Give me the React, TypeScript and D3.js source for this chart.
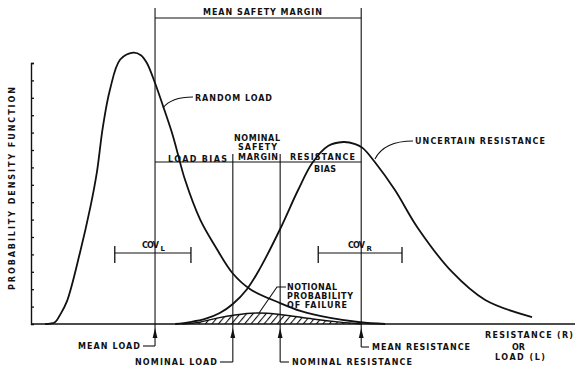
import React, { useRef, useEffect } from "react";
import * as d3 from "d3";

// values: x in arbitrary load/resistance units,
// y in units of the density axis ticks (15 ticks up the axis)
const loadX = [2.6, 4.4, 5.3, 6.6, 9.0, 10.9, 12.1, 13.2, 14.5, 16.4, 18.8, 20.2, 21.3, 22.8, 24.3, 25.9, 26.8, 28.3, 31.1, 33.8, 37.1, 40.3, 45.8, 49.5, 55.0, 60.5, 65.1];
const loadY = [0, 0.1, 0.5, 1.3, 4.1, 6.7, 8.7, 11.3, 13.45, 15.2, 15.6, 15.45, 15.0, 13.85, 12.5, 11.0, 10.0, 8.3, 6.0, 4.5, 2.9, 2.0, 1.2, 0.75, 0.35, 0.1, 0];

const resistanceX = [26.5, 29.2, 32.0, 34.7, 37.1, 39.7, 42.1, 45.8, 49.1, 51.7, 54.6, 57.4, 59.6, 61.0, 63.2, 66.9, 71.1, 77.4, 83.5, 92.1];
const resistanceY = [0, 0.11, 0.29, 0.63, 1.15, 2.0, 3.2, 5.46, 7.7, 9.25, 10.23, 10.46, 10.34, 10.11, 9.31, 7.7, 5.52, 2.99, 1.38, 0.4];

const failureX = [27.8, 31.1, 34.2, 37.5, 41.5, 45.8, 51.8, 56.8, 60.8];
const failureY = [0, 0.11, 0.34, 0.52, 0.63, 0.55, 0.29, 0.11, 0];

const markerNames = ["MEAN LOAD", "NOMINAL LOAD", "NOMINAL RESISTANCE", "MEAN RESISTANCE"];
const markerValues = [22.8, 37.1, 45.8, 60.7];

const covL = [15.4, 29.4];
const covR = [52.8, 68.2];

const yTicks = [1, 2, 3, 4, 5, 6, 7, 8, 9, 10, 11, 12, 13, 14, 15];

const W = 575;
const H = 372;
const FONT = "'DejaVu Sans', sans-serif";
const INK = "#111";

const App = () => {
  const svgRef = useRef<SVGSVGElement>(null);

  useEffect(() => {
    const svg = d3.select(svgRef.current);
    svg.selectAll("*").remove();

    const x = d3.scaleLinear().domain([0, 100]).range([31, 575]);
    const y = d3.scaleLinear().domain([0, 15]).range([324, 63]);

    // hatching for the failure region
    svg
      .append("defs")
      .append("pattern")
      .attr("id", "hatch")
      .attr("patternUnits", "userSpaceOnUse")
      .attr("width", 5)
      .attr("height", 5)
      .attr("patternTransform", "rotate(40)")
      .append("line")
      .attr("x1", 0)
      .attr("y1", 0)
      .attr("x2", 0)
      .attr("y2", 5)
      .attr("stroke", INK)
      .attr("stroke-width", 2.2);

    const label = (
      text: string,
      lx: number,
      ly: number,
      w: number,
      size = 8,
      rotate = false
    ) => {
      const t = svg
        .append("text")
        .attr("x", lx)
        .attr("y", ly)
        .attr("dominant-baseline", "central")
        .attr("font-family", FONT)
        .attr("font-weight", "bold")
        .attr("font-size", size)
        .attr("fill", INK)
        .text(text);
      if (w > 0) t.attr("textLength", w).attr("lengthAdjust", "spacing");
      if (rotate) t.attr("transform", `rotate(-90, ${lx}, ${ly})`);
      return t;
    };

    const seg = (x1: number, y1: number, x2: number, y2: number, sw = 1.1) =>
      svg
        .append("line")
        .attr("x1", x1)
        .attr("y1", y1)
        .attr("x2", x2)
        .attr("y2", y2)
        .attr("stroke", INK)
        .attr("stroke-width", sw);

    // y axis, ticks pointing inwards
    const yAxis = d3
      .axisRight(y)
      .tickValues(yTicks)
      .tickSizeInner(3)
      .tickSizeOuter(3)
      .tickFormat(() => "");
    const ya = svg.append("g").attr("transform", `translate(${x(0)},0)`).call(yAxis);
    ya.select(".domain").attr("stroke", INK).attr("stroke-width", 1.4);
    ya.selectAll(".tick line").attr("stroke", INK).attr("stroke-width", 1.3);

    // baseline
    seg(x(0), y(0), x(100), y(0), 1.5);

    // failure region
    const fArea = d3
      .area<number>()
      .x((d, i) => x(failureX[i]))
      .y0(y(0))
      .y1((d) => y(d))
      .curve(d3.curveCatmullRom.alpha(0.5));
    svg.append("path").attr("d", fArea(failureY)).attr("fill", "url(#hatch)");

    const curveLine = (xs: number[]) =>
      d3
        .line<number>()
        .x((d, i) => x(xs[i]))
        .y((d) => y(d))
        .curve(d3.curveCatmullRom.alpha(0.5));

    svg
      .append("path")
      .attr("d", curveLine(failureX)(failureY))
      .attr("fill", "none")
      .attr("stroke", INK)
      .attr("stroke-width", 1.4);

    svg
      .append("path")
      .attr("d", curveLine(loadX)(loadY))
      .attr("fill", "none")
      .attr("stroke", INK)
      .attr("stroke-width", 1.8);

    svg
      .append("path")
      .attr("d", curveLine(resistanceX)(resistanceY))
      .attr("fill", "none")
      .attr("stroke", INK)
      .attr("stroke-width", 1.8);

    // vertical marker lines with arrows and leader labels
    const tops = [8, 154, 154, 8];
    const bottoms = [346, 362, 362, 347];
    const labelX = [78, 135, 292, 372];
    const labelW = [62, 82, 120, 98];
    markerValues.forEach((v, i) => {
      const mx = x(v);
      seg(mx, tops[i], mx, bottoms[i], 1.1);
      svg
        .append("path")
        .attr("d", `M${mx},${y(0) + 4}L${mx - 2.4},${y(0) + 14}L${mx + 2.4},${y(0) + 14}Z`)
        .attr("fill", INK);
      const left = i < 2;
      const end = left ? labelX[i] + labelW[i] + 3 : labelX[i] - 3;
      seg(mx, bottoms[i], end, bottoms[i], 1.1);
      label(markerNames[i], labelX[i], bottoms[i], labelW[i]);
    });

    // mean safety margin bracket
    seg(x(markerValues[0]), 18, x(markerValues[3]), 18, 1.1);
    label("MEAN SAFETY MARGIN", 203, 12, 119);

    // bias / nominal margin bracket
    seg(x(markerValues[0]), 162, x(markerValues[3]), 162, 1.1);
    label("LOAD BIAS", 168, 159, 59);
    label("NOMINAL", 234, 138, 46);
    label("SAFETY", 238, 147, 39);
    label("MARGIN", 238, 157, 40);
    label("RESISTANCE", 290, 157, 65);
    label("BIAS", 314, 169, 22);

    // coefficient of variation brackets
    const cov = (range: number[], sub: string, tx: number) => {
      const a = x(range[0]);
      const b = x(range[1]);
      seg(a, 253, b, 253, 1.1);
      seg(a, 246, a, 263, 1.3);
      seg(b, 247, b, 263, 1.3);
      label("COV", tx, 245, 17);
      label(sub, tx + 18.5, 248.5, 0, 7);
    };
    cov(covL, "L", 142);
    cov(covR, "R", 348);

    // curve call-outs
    svg
      .append("path")
      .attr("d", "M163,108Q171,97 193,97")
      .attr("fill", "none")
      .attr("stroke", INK)
      .attr("stroke-width", 1.1);
    label("RANDOM LOAD", 195, 98, 77);

    svg
      .append("path")
      .attr("d", "M375,159Q384,141 413,141")
      .attr("fill", "none")
      .attr("stroke", INK)
      .attr("stroke-width", 1.1);
    label("UNCERTAIN RESISTANCE", 415, 141, 130);

    svg
      .append("path")
      .attr("d", "M286,287L277,287L259,313")
      .attr("fill", "none")
      .attr("stroke", INK)
      .attr("stroke-width", 1.1);
    label("NOTIONAL", 287, 287, 50);
    label("PROBABILITY", 287, 296, 66);
    label("OF FAILURE", 287, 305, 60);

    // axis titles
    label("RESISTANCE (R)", 485, 335, 88);
    label("OR", 512, 347, 13);
    label("LOAD (L)", 495, 357, 50);
    label("PROBABILITY DENSITY FUNCTION", 12, 290, 203, 8, true);
  }, []);

  return (
    <svg
      ref={svgRef}
      width={W}
      height={H}
      style={{ position: "absolute", left: 0, top: 0, background: "#fff" }}
    />
  );
};

export default App;
